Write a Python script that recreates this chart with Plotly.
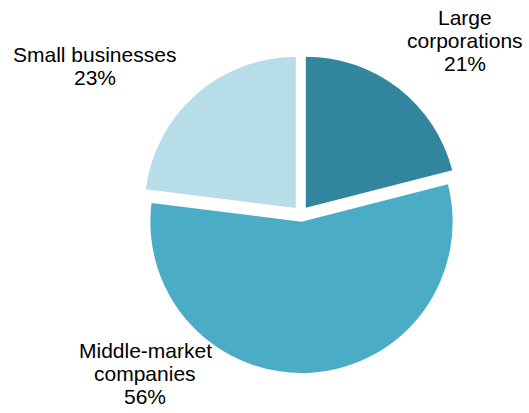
import plotly.graph_objects as go

# Share of total by customer segment
segments = ["Large corporations", "Middle-market companies", "Small businesses"]
shares = [21, 56, 23]
colors = ["#31859C", "#4BACC6", "#B7DDE8"]

# Label lines (segment names broken across lines as they are shown)
label_lines = [["Large", "corporations"], ["Middle-market", "companies"], ["Small businesses"]]

W, H = 529, 413
FS = 21
LINE = 23

fig = go.Figure(go.Pie(
    labels=segments,
    values=shares,
    sort=False,
    direction="clockwise",
    rotation=0,
    pull=[0.052, 0.052, 0.052],
    marker=dict(colors=colors, line=dict(width=0)),
    textinfo="none",
    hoverinfo="label+percent",
    showlegend=False,
    domain=dict(x=[(301 - 159) / W, (301 + 159) / W],
                y=[(H - 214 - 159) / H, (H - 214 + 159) / H]),
))

# Label anchors: horizontal centre and baseline of the first line (pixels)
label_pos = [(465, 25), (145, 358), (94.5, 62)]

annotations = []
for lines, share, (cx, base) in zip(label_lines, shares, label_pos):
    for i, txt in enumerate(lines + [f"{share}%"]):
        y_px = base + i * LINE - 7.3
        annotations.append(dict(
            text=txt, x=cx / W, y=1 - y_px / H, xref="paper", yref="paper",
            xanchor="center", yanchor="middle", showarrow=False,
            font=dict(family="Liberation Sans, Arial, sans-serif", size=FS, color="#000000"),
        ))

fig.update_layout(
    width=W, height=H,
    margin=dict(l=0, r=0, t=0, b=0),
    paper_bgcolor="white",
    plot_bgcolor="white",
    annotations=annotations,
)

fig.write_html("out.html")
